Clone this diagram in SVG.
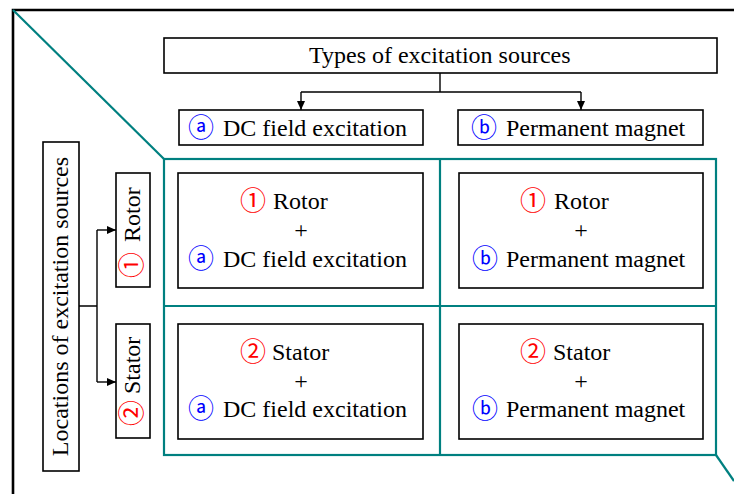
<svg xmlns="http://www.w3.org/2000/svg" width="734" height="494" viewBox="0 0 734 494">
<style>
.box{fill:#fff;stroke:#000;stroke-width:1.6}
.teal{fill:none;stroke:#008080;stroke-width:2.2}
.frame{fill:none;stroke:#000;stroke-width:2.6}
.con{fill:none;stroke:#000;stroke-width:1.4}
text{font-family:'Liberation Serif','DejaVu Serif','Times New Roman',serif;font-size:24px;fill:#000}
text.c{font-family:'Noto Sans CJK SC','DejaVu Sans',sans-serif;font-size:26px;text-anchor:middle}
.red{fill:#ff0000}
.blue{fill:#0000ff}
.m{text-anchor:middle}
</style>
<defs>
<marker id="arr" markerUnits="userSpaceOnUse" markerWidth="10" markerHeight="10" refX="9" refY="4" orient="auto">
<path d="M0,0 L9,4 L0,8 Z" fill="#000"/>
</marker>
</defs>
<g id="frame">
<path class="frame" d="M734,10 H13 V494"/>
<path class="teal" d="M13,10 L164,159"/>
<path class="teal" d="M716,455 L734,481"/>
<rect class="teal" x="164" y="159" width="552" height="296"/>
<path class="teal" d="M440,159 V455 M164,306 H716"/>
</g>
<g id="connectors">
<path class="con" d="M440,73 V92 M301,92 H581"/>
<path class="con" d="M301,92 V110" marker-end="url(#arr)"/>
<path class="con" d="M581,92 V110" marker-end="url(#arr)"/>
<path class="con" d="M79,306 H97 M97,230 V382"/>
<path class="con" d="M97,230 H116" marker-end="url(#arr)"/>
<path class="con" d="M97,382 H116" marker-end="url(#arr)"/>
</g>
<g id="types">
<rect class="box" x="164" y="38" width="553" height="35"/>
<text x="309" y="63">Types of excitation sources</text>
</g>
<g id="type-a">
<rect class="box" x="179" y="110" width="244" height="35"/>
<text class="c blue" x="201" y="137">ⓐ</text>
<text x="223" y="136">DC field excitation</text>
</g>
<g id="type-b">
<rect class="box" x="458" y="110" width="245" height="35"/>
<text class="c blue" x="484" y="137">ⓑ</text>
<text x="506" y="136">Permanent magnet</text>
</g>
<g id="locations">
<rect class="box" x="43" y="142" width="36" height="329"/>
<text class="m" transform="translate(68,306.5) rotate(-90)">Locations of excitation sources</text>
</g>
<g id="loc-rotor">
<rect class="box" x="116" y="173" width="34" height="114"/>
<text class="c red" transform="translate(141,265) rotate(-90)">①</text>
<text transform="translate(140,242) rotate(-90)">Rotor</text>
</g>
<g id="loc-stator">
<rect class="box" x="116" y="324" width="34" height="114"/>
<text class="c red" transform="translate(141,413) rotate(-90)">②</text>
<text transform="translate(140,394) rotate(-90)">Stator</text>
</g>
<g id="cell-rotor-a">
<rect class="box" x="178" y="173" width="245" height="115"/>
<text class="c red" x="253" y="210">①</text>
<text x="273" y="209">Rotor</text>
<text class="m" x="301" y="238">+</text>
<text class="c blue" x="201" y="268">ⓐ</text>
<text x="223" y="267">DC field excitation</text>
</g>
<g id="cell-rotor-b">
<rect class="box" x="459" y="173" width="244" height="115"/>
<text class="c red" x="533" y="210">①</text>
<text x="554" y="209">Rotor</text>
<text class="m" x="581" y="238">+</text>
<text class="c blue" x="485" y="268">ⓑ</text>
<text x="506" y="267">Permanent magnet</text>
</g>
<g id="cell-stator-a">
<rect class="box" x="178" y="324" width="245" height="115"/>
<text class="c red" x="253" y="361">②</text>
<text x="272" y="360">Stator</text>
<text class="m" x="301" y="389">+</text>
<text class="c blue" x="201" y="418">ⓐ</text>
<text x="223" y="417">DC field excitation</text>
</g>
<g id="cell-stator-b">
<rect class="box" x="459" y="324" width="244" height="115"/>
<text class="c red" x="533" y="361">②</text>
<text x="553" y="360">Stator</text>
<text class="m" x="581" y="389">+</text>
<text class="c blue" x="485" y="418">ⓑ</text>
<text x="506" y="417">Permanent magnet</text>
</g>
</svg>
